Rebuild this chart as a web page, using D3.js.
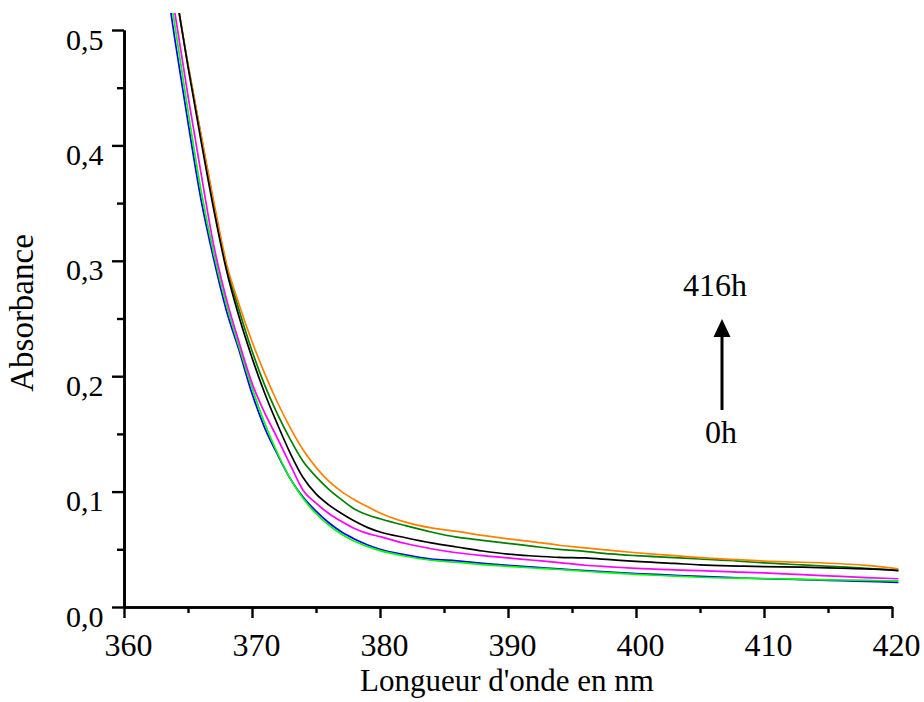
<!DOCTYPE html>
<html><head><meta charset="utf-8">
<script src="https://cdn.jsdelivr.net/npm/d3@7"></script>
<style>body{margin:0;background:#fff}svg{display:block}</style>
</head><body><svg id="c" width="924" height="702"></svg>
<script>
// ---- data ----
const wavelengths = [363.5,364,365,366,367,368,369,370,371,372,373,374,375,376,377,378,379,380,382,384,386,388,390,392,394,396,398,400,403,405,408,410,413,416,418,420.5];
const seriesNames = ["0h","t1","t2","t3","t4","416h"];
const seriesColors = ["#0000ff","#00ff00","#ff00ff","#000000","#008000","#ff8000"];
const blue    = [0.527,0.49,0.42,0.354,0.302,0.257,0.222,0.185,0.155,0.132,0.111,0.095,0.083,0.073,0.065,0.059,0.054,0.050,0.0452,0.0415,0.040,0.0378,0.036,0.0345,0.033,0.0315,0.0302,0.029,0.0275,0.0265,0.0252,0.0245,0.0237,0.0228,0.0222,0.0214];
const lime    = [0.538,0.502,0.43,0.362,0.307,0.262,0.225,0.19,0.159,0.133,0.111,0.094,0.081,0.071,0.063,0.057,0.0525,0.0488,0.044,0.0405,0.0388,0.0368,0.0352,0.0338,0.0325,0.031,0.0296,0.0283,0.0268,0.0258,0.025,0.0247,0.024,0.0234,0.023,0.0226];
const magenta = [0.55,0.513,0.443,0.377,0.314,0.267,0.229,0.194,0.168,0.146,0.123,0.101,0.09,0.081,0.074,0.068,0.0638,0.061,0.055,0.0505,0.047,0.0445,0.0425,0.0405,0.0385,0.0362,0.0348,0.0335,0.0322,0.0315,0.0303,0.0295,0.028,0.0265,0.0255,0.0245];
const black   = [0.573,0.536,0.468,0.405,0.345,0.292,0.251,0.216,0.185,0.158,0.133,0.112,0.098,0.0885,0.081,0.0745,0.069,0.065,0.060,0.0555,0.052,0.0485,0.0458,0.0442,0.043,0.0425,0.041,0.0395,0.0378,0.0365,0.0355,0.035,0.0345,0.0336,0.033,0.0316];
const green   = [0.573,0.536,0.47,0.41,0.35,0.296,0.257,0.222,0.192,0.167,0.145,0.126,0.113,0.102,0.093,0.085,0.080,0.0765,0.0705,0.065,0.0605,0.0578,0.0552,0.0525,0.050,0.0482,0.046,0.0445,0.0428,0.0416,0.0398,0.0382,0.0365,0.0348,0.0335,0.0318];
const orange  = [0.573,0.536,0.47,0.41,0.352,0.298,0.262,0.23,0.202,0.177,0.155,0.136,0.121,0.109,0.1,0.093,0.087,0.0815,0.0735,0.0685,0.0655,0.062,0.059,0.0565,0.0535,0.0512,0.049,0.047,0.0445,0.0428,0.041,0.0398,0.0388,0.0375,0.036,0.033];
const yMajorTicks = [0,0.1,0.2,0.3,0.4,0.5];
const yMinorTicks = [0.05,0.15,0.25,0.35,0.45];
const xMajorTicks = [360,370,380,390,400,410,420];
const xMinorTicks = [365,375,385,395,405,415];
const xTitle = "Longueur d'onde en nm";
const yTitle = "Absorbance";
const annotTop = "416h", annotBottom = "0h";

// ---- drawing ----
const svg = d3.select("#c");
const FONT = "'Liberation Serif','Times New Roman',serif";
const x = d3.scaleLinear().domain([360,420]).range([124,892]);
const y = d3.scaleLinear().domain([0,0.5]).range([607,30]);
const fmt = d => d3.format(".1f")(d).replace(".", ",");

svg.append("defs").append("clipPath").attr("id","clip")
  .append("rect").attr("x",124).attr("y",13).attr("width",800).attr("height",594);

const allSeries = [blue, lime, magenta, black, green, orange];
const line = d3.line().x(d => x(d[0])).y(d => y(d[1])).curve(d3.curveMonotoneX);
const g = svg.append("g").attr("clip-path","url(#clip)");
[0,1,2,4,5,3].forEach(i => {
  const pts = wavelengths.map((w,j) => [w, allSeries[i][j]]);
  g.append("path").attr("d", line(pts)).attr("fill","none")
    .attr("stroke", seriesColors[i]).attr("stroke-width",1.7);
});

// y axis
const yAx = svg.append("g").attr("transform","translate(124,0)")
  .call(d3.axisLeft(y).tickValues(yMajorTicks).tickSize(12).tickSizeOuter(0).tickPadding(8.5).tickFormat(fmt));
svg.append("g").attr("class","minor").attr("transform","translate(124,0)")
  .call(d3.axisLeft(y).tickValues(yMinorTicks).tickSize(7).tickSizeOuter(0).tickFormat(""));
// x axis
const xAx = svg.append("g").attr("transform","translate(0,607)")
  .call(d3.axisBottom(x).tickValues(xMajorTicks).tickSize(11).tickSizeOuter(0).tickFormat(d3.format("d")));
svg.append("g").attr("class","minor").attr("transform","translate(0,607)")
  .call(d3.axisBottom(x).tickValues(xMinorTicks).tickSize(6).tickSizeOuter(0).tickFormat(""));

svg.selectAll(".domain").attr("stroke","#000").attr("stroke-width",2.6);
svg.selectAll(".tick line").attr("stroke","#000").attr("stroke-width",2.4);
yAx.selectAll("text").attr("dy","19px").attr("font-family",FONT).attr("font-size",30).attr("fill","#000");
xAx.selectAll("text").attr("y",49).attr("dy",0).attr("dx",4).attr("font-family",FONT).attr("font-size",32).attr("fill","#000");

// titles
svg.append("text").attr("x",507).attr("y",691).attr("text-anchor","middle")
  .attr("font-family",FONT).attr("font-size",31).text(xTitle);
svg.append("text").attr("transform","translate(33,313) rotate(-90)").attr("text-anchor","middle")
  .attr("font-family",FONT).attr("font-size",33).text(yTitle);

// annotation arrow
svg.append("line").attr("x1",722).attr("y1",410).attr("x2",722).attr("y2",334)
  .attr("stroke","#000").attr("stroke-width",3);
svg.append("path").attr("d","M722,319 L730.5,337 L713.5,337 Z").attr("fill","#000");
svg.append("text").attr("x",715).attr("y",296).attr("text-anchor","middle")
  .attr("font-family",FONT).attr("font-size",32).text(annotTop);
svg.append("text").attr("x",721).attr("y",443).attr("text-anchor","middle")
  .attr("font-family",FONT).attr("font-size",32).text(annotBottom);
</script></body></html>
